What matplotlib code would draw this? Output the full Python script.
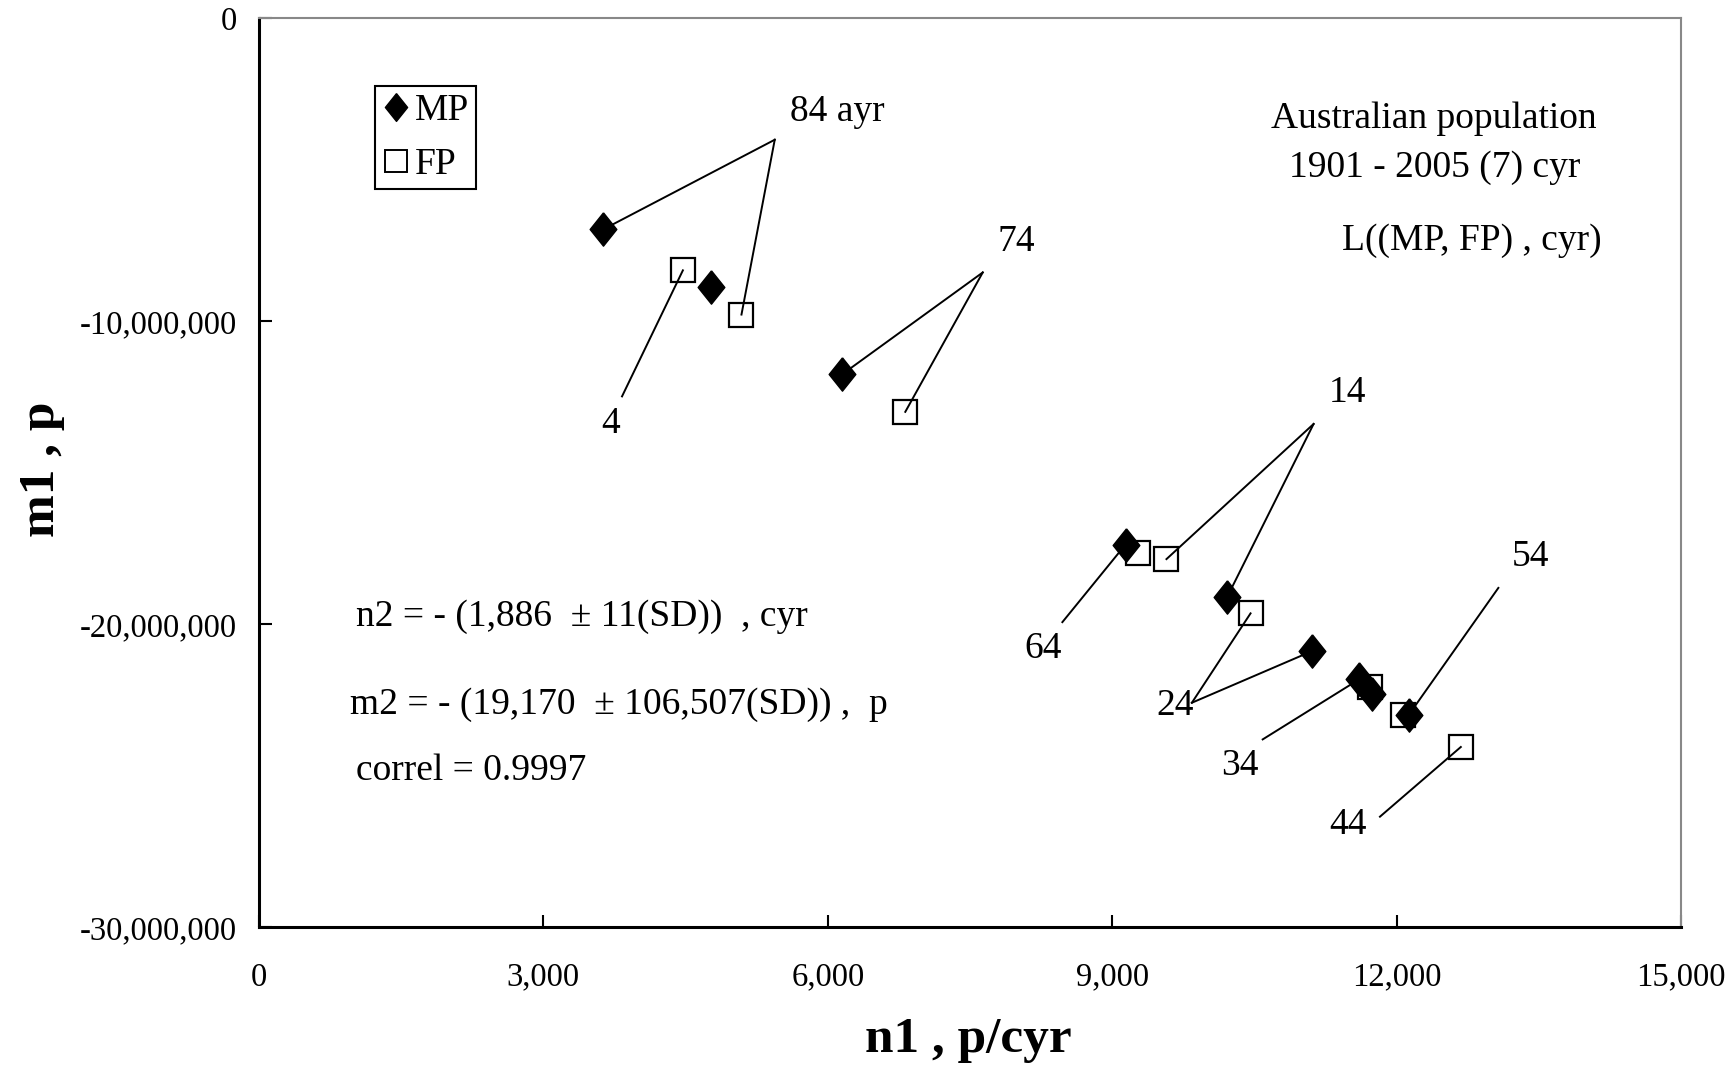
import numpy as np
import matplotlib.pyplot as plt
from matplotlib.lines import Line2D

plt.rcParams['font.family'] = ['Liberation Serif', 'DejaVu Serif']

# census years (cyr) and the two populations, n1 in p/cyr, m1 in p
years = [1904, 1914, 1924, 1934, 1944, 1954, 1964, 1974, 1984]
mp_n1 = [4763, 10214, 11112, 11603, 11743, 12128, 9140, 6152, 3630]
mp_m1 = [-8.87e6, -19.09e6, -20.88e6, -21.82e6, -22.30e6, -22.99e6, -17.37e6, -11.75e6, -6.97e6]
fp_n1 = [4471, 9572, 10459, 11720, 12677, 12070, 9268, 6817, 5089]
fp_m1 = [-8.32e6, -17.85e6, -19.64e6, -22.08e6, -24.05e6, -22.99e6, -17.66e6, -12.99e6, -9.78e6]

# year labels: text, text position, leader start, series the leaders point to
year_labels = ['4', '14', '24', '34', '44', '54', '64', '74', '84 ayr']
label_xy = [(3712, -13.39e6), (11486, -12.37e6), (9665, -22.70e6), (10342, -24.67e6),
            (11486, -26.61e6), (13412, -17.77e6), (8276, -20.80e6), (7984, -7.37e6),
            (6105, -3.10e6)]
leader_from = [(3829, -12.48e6), (11124, -13.39e6), (9840, -22.59e6), (10587, -23.80e6),
               (11824, -26.35e6), (13073, -18.80e6), (8474, -19.93e6), (7634, -8.39e6),
               (5440, -4.01e6)]
leader_to = [['FP'], ['FP', 'MP'], ['FP', 'MP'], ['MP'], ['FP'], ['MP'], ['MP'],
             ['MP', 'FP'], ['MP', 'FP']]

x_ticks = [0, 3000, 6000, 9000, 12000, 15000]
y_ticks = [0, -10e6, -20e6, -30e6]

fig = plt.figure(figsize=(17.35, 10.72), dpi=100)
ax = fig.add_axes([0.1493, 0.135, 0.8196, 0.848])

series = {'MP': (mp_n1, mp_m1), 'FP': (fp_n1, fp_m1)}
for i, yr in enumerate(years):
    x0, y0 = leader_from[i]
    for s in leader_to[i]:
        xs, ys = series[s]
        ax.plot([x0, xs[i]], [y0, ys[i]], color='black', lw=1.4, zorder=2)
    ax.text(*label_xy[i], year_labels[i], fontsize=27, ha='center', va='center')

diamond = [(0, 1), (0.8, 0), (0, -1), (-0.8, 0), (0, 1)]
ax.plot(fp_n1, fp_m1, ls='none', marker='s', ms=17, mfc='none', mec='black', mew=1.6, zorder=3)
ax.plot(mp_n1, mp_m1, ls='none', marker=diamond, ms=24, color='black', zorder=4)

handles = [Line2D([], [], ls='none', marker=diamond, ms=20, color='black'),
           Line2D([], [], ls='none', marker='s', ms=16, mfc='none', mec='black', mew=1.4)]
leg = ax.legend(handles, ['MP', 'FP'], loc='upper left', bbox_to_anchor=(0.0816, 0.925),
                borderaxespad=0, fontsize=27, handlelength=0.7, handletextpad=0.15,
                borderpad=0.2, labelspacing=0.5, fancybox=False, framealpha=1,
                edgecolor='black')
leg.get_frame().set_linewidth(1.5)

ax.text(12397, -3.32e6, 'Australian population', fontsize=27, ha='center', va='center')
ax.text(12397, -4.93e6, '1901 - 2005 (7) cyr', fontsize=27, ha='center', va='center')
ax.text(14159, -7.34e6, 'L((MP, FP) , cyr)', fontsize=27, ha='right', va='center')

ax.text(1027, -19.74e6, 'n2 = - (1,886  \u00b1 11(SD))  , cyr', fontsize=27, va='center')
ax.text(957, -22.66e6, 'm2 = - (19,170  \u00b1 106,507(SD)) ,  p', fontsize=27, va='center')
ax.text(1027, -24.85e6, 'correl = 0.9997', fontsize=27, va='center')

ax.set_xlim(0, 15000)
ax.set_ylim(-30e6, 0)
ax.set_xticks(x_ticks)
ax.set_yticks(y_ticks)
ax.set_xticklabels([f'{v:,}' for v in x_ticks])
ax.set_yticklabels([f'{int(v):,}' for v in y_ticks])
ax.tick_params(direction='in', length=9, width=1.5, labelsize=23.5)
ax.tick_params(axis='x', pad=25)
ax.tick_params(axis='y', pad=16)

for side in ['left', 'bottom']:
    ax.spines[side].set_linewidth(2.2)
for side in ['top', 'right']:
    ax.spines[side].set_linewidth(1.5)
    ax.spines[side].set_color('#888888')

fig.text(0.558, 0.030, 'n1 , p/cyr', fontsize=37, fontweight='bold', ha='center', va='center')
fig.text(0.024, 0.562, 'm1 , p', fontsize=37, fontweight='bold', ha='center', va='center',
         rotation=90)

fig.savefig('out.png', dpi=100)
